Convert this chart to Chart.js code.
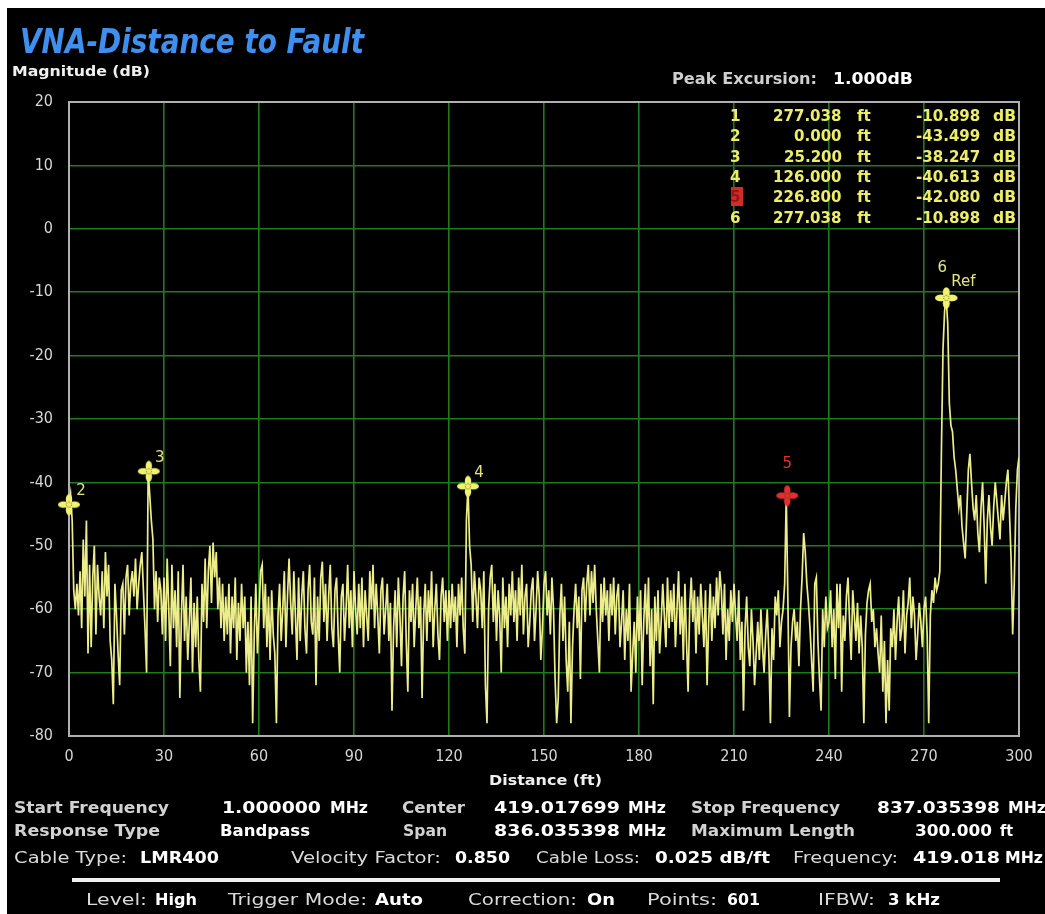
<!DOCTYPE html>
<html><head><meta charset="utf-8">
<script src="https://cdn.jsdelivr.net/npm/chart.js@4.4.0/dist/chart.umd.min.js"></script>
<style>
html,body{margin:0;padding:0;background:#fff;width:1045px;height:914px;overflow:hidden;}
#bg{position:absolute;left:7px;top:8px;width:1038px;height:906px;background:#000;}
#c{position:absolute;left:0;top:0;}
.t{position:absolute;white-space:nowrap;line-height:1;transform-origin:0 50%;}
.box{position:absolute;}
</style></head><body>
<div id="bg"></div>
<canvas id="c" width="1045" height="914"></canvas>
<script>
// ---------------- DATA ----------------
const distanceStartFt = 0, distanceStepFt = 0.5;   // 601 points over 0..300 ft
const magnitudeDb = [
-43.5,-41.8,-46,-57,-60,-56,-61,-54,-63,-49,-58,-46,-67,-53,-66,-55,-50,-64,-53,-58,
-61,-54,-63,-51,-58,-53,-65,-68,-75,-56,-61,-67,-72,-57,-56,-64,-55,-53,-61,-56,
-54,-58,-52,-60,-56,-53,-51,-57,-63,-70,-38.2,-42,-46,-49,-60,-54,-62,-55,-57,-64,
-55,-65,-52,-60,-69,-53,-63,-57,-66,-54,-74,-61,-53,-65,-58,-68,-62,-55,-70,-59,
-66,-58,-68,-73,-56,-62,-52,-63,-54,-50,-59,-49.5,-55,-51,-60,-55,-63,-56,-65,-58,
-64,-56,-67,-58,-63,-55,-68,-59,-65,-56,-63,-58,-70,-62,-72,-58,-78,-64,-56,-67,
-61,-54,-53,-63,-56,-66,-58,-68,-57,-64,-67,-78,-61,-56,-65,-60,-54,-66,-58,-52,
-59,-64,-54,-61,-68,-55,-65,-58,-54,-63,-67,-57,-53,-62,-64,-55,-72,-58,-65,-55,
-52.5,-62,-56,-65,-58,-53,-63,-66,-57,-55,-64,-70,-58,-56,-65,-60,-53,-63,-57,-66,
-54,-60,-64,-56,-63,-55,-66,-57,-61,-65,-54,-60,-53,-63,-56,-61,-67,-57,-55,-64,
-60,-56,-65,-59,-76,-63,-57,-66,-55,-61,-69,-58,-54,-65,-73,-57,-62,-56,-66,-60,
-55,-63,-58,-74,-61,-56,-65,-57,-62,-54,-66,-60,-56,-64,-68,-58,-55,-62,-57,-65,
-57,-63,-56,-62,-58,-66,-56,-61,-55,-63,-67,-46,-40.6,-50,-53,-62,-54,-58,-63,-55,
-57,-63,-54,-72,-78,-60,-55,-53,-62,-56,-65,-57,-61,-70,-55,-63,-58,-66,-56,-61,
-54,-62,-57,-65,-55,-61,-53,-64,-58,-56,-66,-62,-57,-55,-65,-60,-54,-58,-68,-63,
-56,-54,-61,-57,-64,-55,-60,-71,-78,-74,-61,-56,-65,-58,-68,-73,-62,-78,-66,-60,
-56,-63,-58,-71,-57,-55,-62,-56,-53,-61,-54,-59,-53,-60,-65,-70,-56,-62,-55,-61,
-57,-65,-56,-61,-55,-64,-58,-56,-66,-62,-57,-68,-60,-65,-56,-73,-67,-62,-70,-58,
-65,-57,-72,-62,-56,-64,-55,-69,-60,-75,-58,-65,-57,-67,-62,-56,-61,-66,-55,-63,
-57,-62,-56,-66,-60,-54,-64,-58,-68,-56,-65,-73,-60,-55,-62,-57,-67,-58,-64,-56,
-61,-66,-57,-72,-62,-56,-65,-58,-63,-55,-61,-54,-57,-64,-56,-68,-60,-65,-57,-62,
-56,-61,-65,-57,-68,-62,-76,-63,-58,-66,-69,-60,-65,-72,-67,-62,-68,-60,-66,-70,
-64,-60,-67,-78,-63,-68,-58,-61,-57,-66,-62,-60,-56,-42.08,-58,-77,-66,-62,-60,-65,
-62,-69,-60,-55,-48,-51,-56,-59,-63,-68,-73,-56,-55,-65,-71,-76,-60,-66,-58,-63,
-62,-57,-66,-60,-71,-56,-63,-56,-73,-61,-65,-58,-55,-62,-68,-57,-61,-65,-59,-67,
-61,-66,-78,-64,-59,-57,-56,-62,-60,-66,-63,-67,-70,-61,-73,-65,-78,-68,-76,-63,
-66,-60,-68,-62,-58,-65,-63,-57,-67,-61,-59,-55,-63,-58,-61,-68,-64,-59,-62,-66,
-60,-58,-64,-78,-61,-57,-59,-55,-57,-56,-54,-35,-19,-13,-10.9,-15,-27.5,-31,-32,-36,
-38,-41,-44,-42,-47,-49.5,-52,-45,-38,-35.5,-40,-44,-46,-42,-48,-51,-44,-40,-47,-56,
-46,-42,-47,-50,-44,-40,-43,-46,-49,-42,-46,-43,-40,-38,-45,-52,-64,-56,-44,-38,
-36
];
const markerIds   = ['1','2','3','4','5','6'];
const markerDist  = [277.038, 0.000, 25.200, 126.000, 226.800, 277.038];
const markerMag   = [-10.898, -43.499, -38.247, -40.613, -42.080, -10.898];
const markerDistText = ['277.038','0.000','25.200','126.000','226.800','277.038'];
const markerMagText  = ['-10.898','-43.499','-38.247','-40.613','-42.080','-10.898'];
const activeMarker = '5';
const xTickValues = [0,30,60,90,120,150,180,210,240,270,300];
const yTickValues = [-80,-70,-60,-50,-40,-30,-20,-10,0,10,20];
const xRange = [0,300], yRange = [-80,20];

// ---------------- TEXT HELPER ----------------
function place(txt, x, yc, o){
  const d=document.createElement('div'); d.className='t'; d.textContent=txt;
  const size=o.size||16;
  d.style.fontFamily=o.family||'"DejaVu Sans", sans-serif';
  d.style.fontSize=size+'px';
  d.style.fontWeight=o.bold?'bold':'normal';
  d.style.fontStyle=o.italic?'italic':'normal';
  d.style.color=o.color||'#fff';
  document.body.appendChild(d);
  const mw=d.getBoundingClientRect().width;
  const s=o.w? o.w/mw : (o.s||1);
  const vw=mw*s;
  let left=x;
  if(o.align==='right') left=x-vw; else if(o.align==='center') left=x-vw/2;
  d.style.left=left+'px';
  d.style.top=(yc-size*0.48)+'px';
  d.style.transform='scaleX('+s+')';
}
function box(x,y,w,h,color){
  const b=document.createElement('div'); b.className='box';
  b.style.left=x+'px'; b.style.top=y+'px'; b.style.width=w+'px'; b.style.height=h+'px'; b.style.background=color;
  document.body.appendChild(b);
}

// ---------------- CHART ----------------
function makeGlyph(color){
  const c=document.createElement('canvas'); c.width=24; c.height=22;
  const g=c.getContext('2d'); g.fillStyle=color;
  [[17.5,11,5.5,3.2],[6.5,11,5.5,3.2],[12,16.2,3.2,5.2],[12,5.8,3.2,5.2]].forEach(p=>{
    g.beginPath(); g.ellipse(p[0],p[1],p[2],p[3],0,0,Math.PI*2); g.fill();
  });
  g.strokeStyle='rgba(60,50,0,0.85)'; g.lineWidth=1; g.setLineDash([1,1.3]);
  g.beginPath(); g.arc(12,11,2.6,0,Math.PI*2); g.stroke();
  return c;
}
const yellow='#eeee66', red='#e23030';
const glyphY=makeGlyph('#f2f270'), glyphR=makeGlyph(red);

const tracePts=magnitudeDb.map((v,i)=>({x:distanceStartFt+i*distanceStepFt,y:v}));
const markerPts=markerIds.map((id,i)=>({x:markerDist[i],y:markerMag[i]}));

const edgeGray='#b0b0b0', gridGreen='#1d7d1d';
const tickFont={family:'"Liberation Sans Narrow","DejaVu Sans Condensed","DejaVu Sans",sans-serif',size:16};

const borderPlugin={
  id:'plotBorder',
  beforeDatasetsDraw(chart){
    const a=chart.chartArea, ctx=chart.ctx;
    ctx.save(); ctx.strokeStyle=edgeGray; ctx.lineWidth=2;
    ctx.strokeRect(a.left, a.top, a.right-a.left, a.bottom-a.top);
    ctx.restore();
  }
};
const labelPlugin={
  id:'markerLabels',
  afterDatasetsDraw(chart){
    const ctx=chart.ctx, xs=chart.scales.x, ys=chart.scales.y;
    ctx.save();
    ctx.font='15px "DejaVu Sans", sans-serif';
    ctx.textBaseline='middle';
    markerIds.forEach((id,i)=>{
      const px=xs.getPixelForValue(markerDist[i]), py=ys.getPixelForValue(markerMag[i]);
      ctx.fillStyle = id===activeMarker ? red : '#e4e47c';
      let txt=id, dx=12, dy=-13, al='center';
      if(id==='1'){ txt='Ref'; dx=5; dy=-16; al='left'; }
      else if(id==='5'){ dx=0; dy=-31; }
      else if(id==='6'){ dx=-4; dy=-30; }
      else if(id==='3'){ dx=11; dy=-13; }
      else if(id==='4'){ dx=11; dy=-13; }
      ctx.textAlign=al;
      ctx.fillText(txt, px+dx, py+dy);
    });
    ctx.restore();
  }
};

new Chart(document.getElementById('c'),{
  type:'line',
  data:{datasets:[
    {label:'Marker', type:'scatter', data:markerPts, order:0, clip:false, showLine:false,
     pointStyle:markerIds.map(id=>id===activeMarker?glyphR:glyphY), pointRadius:10, pointHoverRadius:10},
    {label:'Magnitude', data:tracePts, order:1, borderColor:'#eded8a', borderWidth:1.7,
     pointRadius:0, tension:0, fill:false}
  ]},
  options:{
    responsive:false, animation:false, devicePixelRatio:1,
    layout:{padding:{left:0,top:102,right:26,bottom:148}},
    plugins:{legend:{display:false},tooltip:{enabled:false}},
    scales:{
      x:{type:'linear',min:xRange[0],max:xRange[1],
        afterBuildTicks:s=>{s.ticks=xTickValues.map(v=>({value:v}));},
        afterFit:s=>{s.height=30;},
        border:{display:false},
        grid:{drawTicks:false,color:gridGreen,lineWidth:1.6},
        ticks:{color:'#d6d6d6',font:tickFont,padding:11,maxRotation:0,autoSkip:false}},
      y:{min:yRange[0],max:yRange[1],
        afterBuildTicks:s=>{s.ticks=yTickValues.map(v=>({value:v}));},
        afterFit:s=>{s.width=69;},
        border:{display:false},
        grid:{drawTicks:false,color:gridGreen,lineWidth:1.6},
        ticks:{color:'#d6d6d6',font:tickFont,padding:16,autoSkip:false}}
    }
  },
  plugins:[borderPlugin,labelPlugin]
});

// ---------------- TEXTS ----------------
function drawTexts(){
  place('VNA-Distance to Fault',20,40.5,{size:33,bold:true,italic:true,color:'#3d8ff0',w:344});
  place('Magnitude (dB)',12,71,{size:14.5,bold:true,color:'#f0f0f0',w:138});
  place('Distance (ft)',545,780,{size:14.5,bold:true,color:'#f0f0f0',w:113,align:'center'});
  place('Peak Excursion:',672,79,{size:16,bold:true,color:'#cfcfcf',w:145});
  place('1.000dB',833,79,{size:16,bold:true,color:'#ffffff',w:80});

  markerIds.forEach((id,i)=>{
    const yc=115.7+i*20.3;
    if(id===activeMarker) box(731,yc-9.5,12,19,'#d42a2a');
    place(id,741,yc,{size:16,bold:true,color:id===activeMarker?'#9a1616':yellow,s:0.95,align:'right'});
    place(markerDistText[i],842,yc,{size:16,bold:true,color:yellow,s:0.94,align:'right'});
    place('ft',857,yc,{size:16,bold:true,color:yellow,s:0.95});
    place(markerMagText[i],980,yc,{size:16,bold:true,color:yellow,s:0.94,align:'right'});
    place('dB',993,yc,{size:16,bold:true,color:yellow,w:23});
  });

  const L={size:16,bold:true,color:'#d2d2d2'}, Lr={size:16.5,bold:false,color:'#dadada'}, V={size:16,bold:true,color:'#ffffff'};
  const rows=[
    [807.5,[['Start Frequency',14,155,L],['1.000000',222,99,V],['MHz',330,38,V],['Center',402,63,L],['419.017699',494,126,V],['MHz',628,38,V],['Stop Frequency',691,149,L],['837.035398',877,123,V],['MHz',1008,38,V]]],
    [830.5,[['Response Type',14,146,L],['Bandpass',220,90,V],['Span',403,44,L],['836.035398',494,126,V],['MHz',628,38,V],['Maximum Length',691,164,L],['300.000',915,77,V],['ft',1000,13,V]]],
    [858,[['Cable Type:',14,113,Lr],['LMR400',140,79,V],['Velocity Factor:',291,150,Lr],['0.850',455,55,V],['Cable Loss:',536,104,Lr],['0.025 dB/ft',655,115,V],['Frequency:',793,105,Lr],['419.018',913,87,V],['MHz',1005,38,V]]],
    [900,[['Level:',86,61,Lr],['High',155,42,V],['Trigger Mode:',228,139,Lr],['Auto',375,48,V],['Correction:',468,109,Lr],['On',587,28,V],['Points:',647,70,Lr],['601',727,33,V],['IFBW:',818,57,Lr],['3 kHz',888,52,V]]]
  ];
  rows.forEach(r=>r[1].forEach(it=>place(it[0],it[1],r[0],Object.assign({w:it[2]},it[3]))));
  box(72,878,928,4,'#f0f0f0');
}
if(document.fonts&&document.fonts.ready){document.fonts.ready.then(drawTexts);}else{drawTexts();}
</script>
</body></html>
